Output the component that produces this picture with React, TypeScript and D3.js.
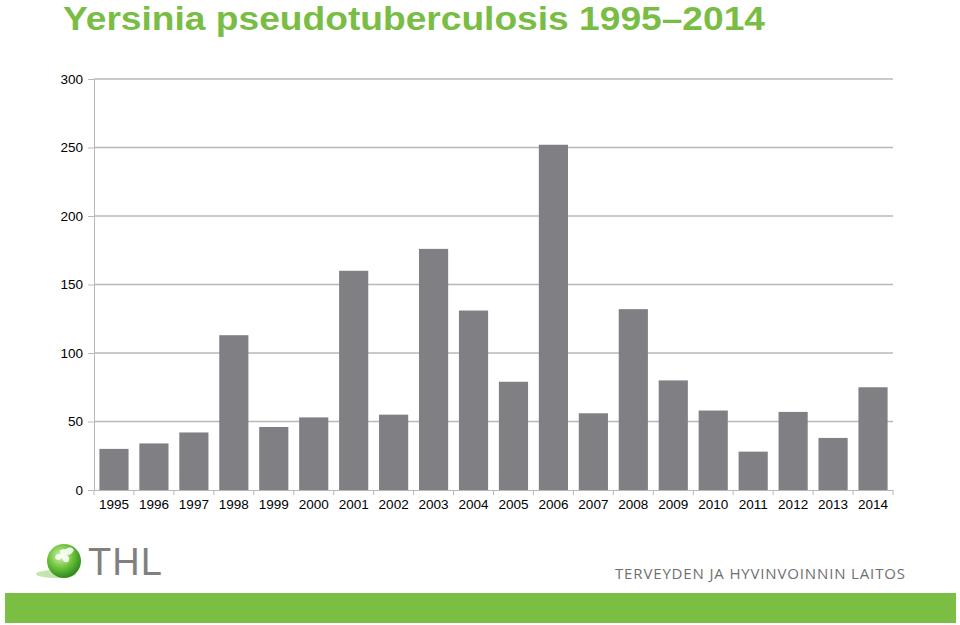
import { useEffect, useRef } from 'react'
import * as d3 from 'd3'

const years = ['1995', '1996', '1997', '1998', '1999', '2000', '2001', '2002', '2003', '2004',
  '2005', '2006', '2007', '2008', '2009', '2010', '2011', '2012', '2013', '2014']
const cases = [30, 34, 42, 113, 46, 53, 160, 55, 176, 131, 79, 252, 56, 132, 80, 58, 28, 57, 38, 75]
const yTicks = [0, 50, 100, 150, 200, 250, 300]

const W = 960
const H = 625

export default function App() {
  const svgRef = useRef<SVGSVGElement>(null)

  useEffect(() => {
    if (!svgRef.current) return
    const svg = d3.select(svgRef.current)
    svg.selectAll('*').remove()

    const margin = { top: 79, right: 67, bottom: 135, left: 94 }
    const chartWidth = W - margin.left - margin.right
    const chartHeight = H - margin.top - margin.bottom

    const x = d3.scaleBand().domain(years).range([0, chartWidth]).paddingInner(0.27).paddingOuter(0.135)
    const y = d3.scaleLinear().domain([0, 300]).range([chartHeight, 0])

    // title
    svg.append('text')
      .attr('x', 63)
      .attr('y', 30)
      .attr('font-family', 'Liberation Sans, Arial, sans-serif')
      .attr('font-size', 33)
      .attr('font-weight', 'bold')
      .attr('fill', '#79bd45')
      .attr('textLength', 702)
      .attr('lengthAdjust', 'spacingAndGlyphs')
      .text('Yersinia pseudotuberculosis 1995\u20132014')

    const g = svg.append('g').attr('transform', `translate(${margin.left},${margin.top})`)

    // grid
    g.selectAll('.grid')
      .data(yTicks.filter(t => t > 0))
      .enter()
      .append('line')
      .attr('x1', 0)
      .attr('x2', chartWidth)
      .attr('y1', d => y(d))
      .attr('y2', d => y(d))
      .attr('stroke', '#b8b8b8')
      .attr('stroke-width', 1.3)

    // bars
    g.selectAll('.bar')
      .data(cases)
      .enter()
      .append('rect')
      .attr('x', (d, i) => x(years[i])!)
      .attr('y', d => y(d))
      .attr('width', x.bandwidth())
      .attr('height', d => chartHeight - y(d))
      .attr('fill', '#807f84')

    // y axis
    const yAxis = g.append('g')
      .call(d3.axisLeft(y).tickValues(yTicks).tickSize(6).tickPadding(5))
    yAxis.select('.domain').attr('stroke', '#b8b8b8')
    yAxis.selectAll('.tick line').attr('stroke', '#b8b8b8')
    yAxis.selectAll('text')
      .attr('font-family', 'Liberation Sans, Arial, sans-serif')
      .attr('font-size', 13.5)
      .attr('fill', '#000')

    // x axis
    const xAxis = g.append('g')
      .attr('transform', `translate(0,${chartHeight})`)
      .call(d3.axisBottom(x).tickSize(0).tickPadding(9))
    xAxis.select('.domain').attr('stroke', '#b8b8b8')
    xAxis.selectAll('text')
      .attr('font-family', 'Liberation Sans, Arial, sans-serif')
      .attr('font-size', 13.5)
      .attr('fill', '#000')

    // x tick marks at band edges
    const step = x.step()
    const edges = d3.range(years.length + 1).map(i => x(years[0])! - (step * x.paddingInner()) / 2 + i * step)
    g.selectAll('.xtick')
      .data(edges)
      .enter()
      .append('line')
      .attr('x1', d => d)
      .attr('x2', d => d)
      .attr('y1', chartHeight)
      .attr('y2', chartHeight + 5)
      .attr('stroke', '#b8b8b8')

    // logo
    const defs = svg.append('defs')
    const grad = defs.append('radialGradient')
      .attr('id', 'ball')
      .attr('cx', '40%')
      .attr('cy', '35%')
      .attr('r', '65%')
    grad.append('stop').attr('offset', '0%').attr('stop-color', '#d9f2b8')
    grad.append('stop').attr('offset', '55%').attr('stop-color', '#6cc33a')
    grad.append('stop').attr('offset', '100%').attr('stop-color', '#2f8a1e')

    svg.append('ellipse')
      .attr('cx', 56)
      .attr('cy', 574)
      .attr('rx', 20)
      .attr('ry', 4)
      .attr('fill', '#a9d98a')
      .attr('opacity', 0.7)
    svg.append('circle')
      .attr('cx', 64)
      .attr('cy', 561)
      .attr('r', 17)
      .attr('fill', 'url(#ball)')
    svg.append('path')
      .attr('d', 'M66,549 q5,-4 8,1 q-2,5 -7,5 q4,3 1,7 q-5,1 -6,-4 q-4,4 -7,0 q1,-5 6,-4 q-4,-5 5,-5z')
      .attr('fill', '#ffffff')
      .attr('opacity', 0.85)
    svg.append('text')
      .attr('x', 88)
      .attr('y', 575)
      .attr('font-family', 'Liberation Sans, Arial, sans-serif')
      .attr('font-size', 38)
      .attr('fill', '#808080')
      .attr('textLength', 74)
      .text('THL')

    svg.append('text')
      .attr('x', 615)
      .attr('y', 579)
      .attr('font-family', 'Open Sans, DejaVu Sans, sans-serif')
      .attr('font-size', 15)
      .attr('fill', '#707070')
      .attr('textLength', 290)
      .text('TERVEYDEN JA HYVINVOINNIN LAITOS')

    // bottom green band
    svg.append('rect')
      .attr('x', 5)
      .attr('y', 593)
      .attr('width', 951)
      .attr('height', 30)
      .attr('fill', '#7abf43')
  }, [])

  return (
    <svg
      ref={svgRef}
      width={W}
      height={H}
      style={{ position: 'absolute', left: 0, top: 0, background: '#fff' }}
    />
  )
}
